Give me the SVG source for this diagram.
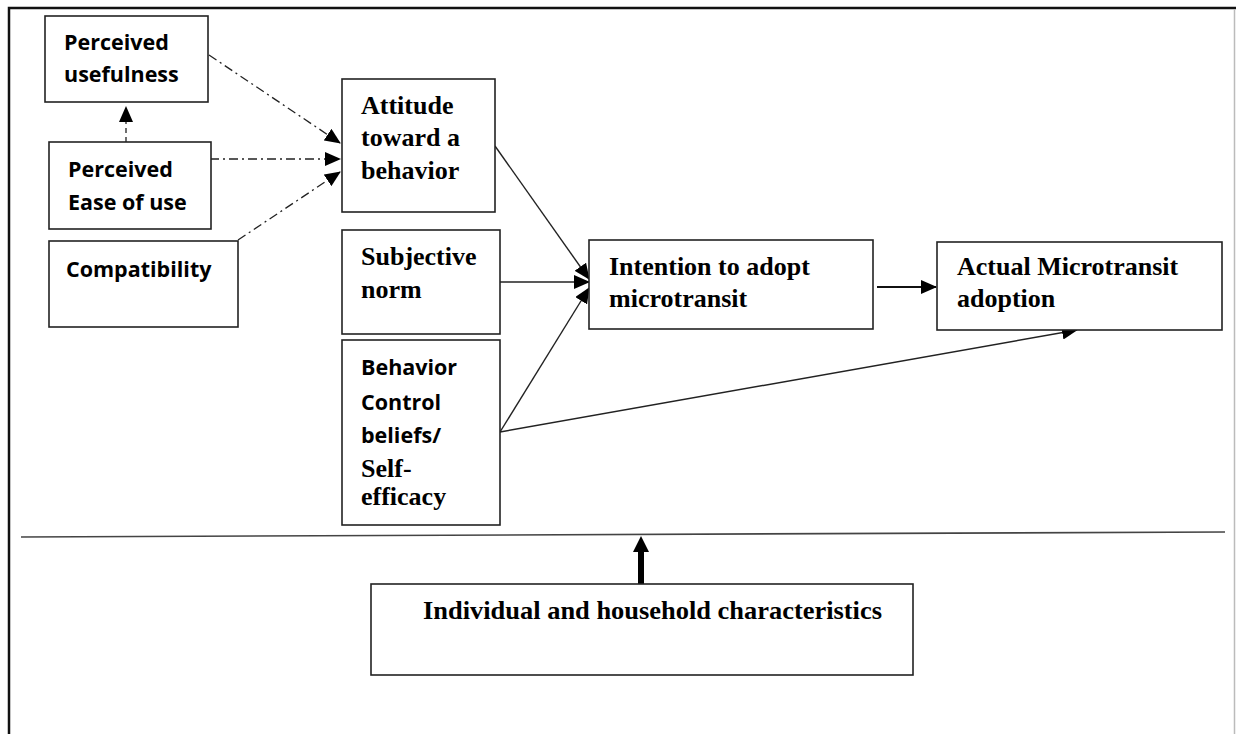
<svg xmlns="http://www.w3.org/2000/svg" width="1236" height="734" viewBox="0 0 1236 734">
<style>
.box{fill:#fff;stroke:#222;stroke-width:1.6}
.sans{font-family:"Open Sans","Liberation Sans",sans-serif;font-weight:bold;font-size:21.5px;fill:#000}
.serif{font-family:"Liberation Serif","Times New Roman",serif;font-weight:bold;font-size:26px;fill:#000}
.dd{stroke:#222;stroke-width:1.3;fill:none;stroke-dasharray:9,4,2,4}
.ln{stroke:#222;stroke-width:1.4;fill:none}
</style>
<defs>
<marker id="ahs" markerWidth="16" markerHeight="14" refX="15" refY="7" orient="auto" markerUnits="userSpaceOnUse" viewBox="0 0 16 14"><path d="M0,0 L16,7 L0,14 z" fill="#000"/></marker>
</defs>
<rect x="0" y="0" width="1236" height="734" fill="#fff"/>
<g id="frame">
<path d="M9,734 L9,8 L1236,8" fill="none" stroke="#111" stroke-width="2.5"/>
<line x1="1234.5" y1="9" x2="1234.5" y2="734" stroke="#bbb" stroke-width="1.5"/>
<line x1="21" y1="537" x2="1225" y2="532" stroke="#444" stroke-width="1.6"/>
</g>
<g id="connectors">
<line class="dd" x1="209" y1="55" x2="340" y2="143" marker-end="url(#ahs)"/>
<line class="dd" x1="210" y1="159" x2="340" y2="159" marker-end="url(#ahs)"/>
<line class="dd" x1="238" y1="240" x2="340" y2="172" marker-end="url(#ahs)"/>
<line x1="126" y1="142" x2="126" y2="107" stroke="#222" stroke-width="1.3" stroke-dasharray="5,4" marker-end="url(#ahs)"/>
<line class="ln" x1="495" y1="146" x2="589" y2="279" marker-end="url(#ahs)"/>
<line class="ln" x1="500" y1="282" x2="589" y2="282" marker-end="url(#ahs)"/>
<line class="ln" x1="500" y1="432" x2="589" y2="288" marker-end="url(#ahs)"/>
<line class="ln" x1="500" y1="432" x2="1077" y2="330" marker-end="url(#ahs)"/>
<line x1="877" y1="287" x2="936" y2="287" stroke="#111" stroke-width="2.2" marker-end="url(#ahs)"/>
<line x1="641" y1="584" x2="641" y2="550" stroke="#000" stroke-width="6"/>
<path d="M633,552 L641,536 L649,552 z" fill="#000"/>
</g>
<g id="pu"><rect class="box" x="45" y="16" width="163" height="86"/><text class="sans" x="64" y="50">Perceived</text><text class="sans" x="64" y="82">usefulness</text></g>
<g id="peou"><rect class="box" x="49" y="142" width="162" height="87"/><text class="sans" x="68" y="177">Perceived</text><text class="sans" x="68" y="210">Ease of use</text></g>
<g id="compat"><rect class="box" x="49" y="241" width="189" height="86"/><text class="sans" x="66" y="277">Compatibility</text></g>
<g id="attitude"><rect class="box" x="342" y="79" width="153" height="133"/><text class="serif" x="361" y="114">Attitude</text><text class="serif" x="361" y="146">toward a</text><text class="serif" x="361" y="179">behavior</text></g>
<g id="norm"><rect class="box" x="342" y="230" width="158" height="104"/><text class="serif" x="361" y="265">Subjective</text><text class="serif" x="361" y="298">norm</text></g>
<g id="control"><rect class="box" x="342" y="340" width="158" height="185"/><text class="sans" x="361" y="375">Behavior</text><text class="sans" x="361" y="410">Control</text><text class="sans" x="361" y="443">beliefs/</text><text class="serif" x="361" y="477">Self-</text><text class="serif" x="361" y="505">efficacy</text></g>
<g id="intention"><rect class="box" x="589" y="240" width="284" height="89"/><text class="serif" x="609" y="275">Intention to adopt</text><text class="serif" x="609" y="307">microtransit</text></g>
<g id="actual"><rect class="box" x="937" y="242" width="285" height="88"/><text class="serif" x="957" y="275">Actual Microtransit</text><text class="serif" x="957" y="307">adoption</text></g>
<g id="individual"><rect class="box" x="371" y="584" width="542" height="91"/><text class="serif" x="423" y="619" font-size="25" textLength="459" lengthAdjust="spacingAndGlyphs">Individual and household characteristics</text></g>
</svg>
